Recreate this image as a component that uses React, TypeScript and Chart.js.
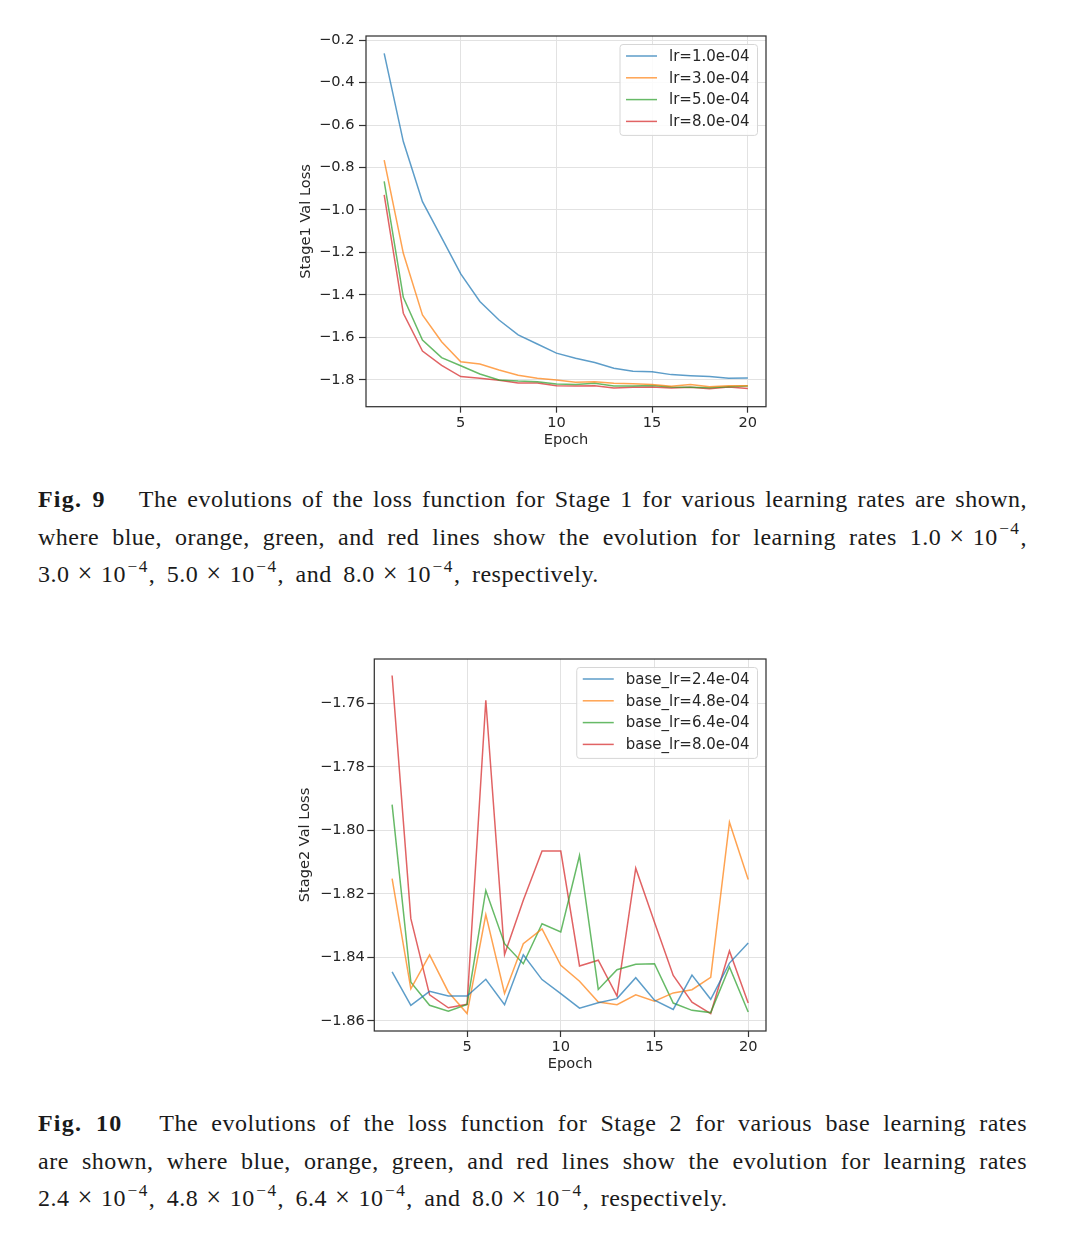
import React, { useEffect, useRef } from "react";
import { Chart, registerables } from "chart.js";

Chart.register(...registerables);

// ---------- data ----------
const epochs = [1, 2, 3, 4, 5, 6, 7, 8, 9, 10, 11, 12, 13, 14, 15, 16, 17, 18, 19, 20];

const stage1Labels = ["lr=1.0e-04", "lr=3.0e-04", "lr=5.0e-04", "lr=8.0e-04"];
const s1Blue = [-0.263, -0.678, -0.961, -1.13, -1.301, -1.431, -1.518, -1.588, -1.631, -1.674, -1.698, -1.718, -1.745, -1.759, -1.762, -1.775, -1.78, -1.784, -1.792, -1.791];
const s1Orange = [-0.765, -1.204, -1.494, -1.62, -1.714, -1.725, -1.753, -1.778, -1.792, -1.8, -1.811, -1.808, -1.816, -1.818, -1.822, -1.83, -1.821, -1.832, -1.827, -1.827];
const s1Green = [-0.865, -1.411, -1.612, -1.695, -1.733, -1.772, -1.8, -1.805, -1.808, -1.819, -1.821, -1.816, -1.828, -1.828, -1.826, -1.833, -1.835, -1.837, -1.832, -1.828];
const s1Red = [-0.929, -1.486, -1.664, -1.731, -1.784, -1.792, -1.802, -1.814, -1.814, -1.827, -1.828, -1.827, -1.838, -1.835, -1.833, -1.838, -1.835, -1.841, -1.833, -1.84];

const stage2Labels = ["base_lr=2.4e-04", "base_lr=4.8e-04", "base_lr=6.4e-04", "base_lr=8.0e-04"];
const s2Blue = [-1.8446, -1.8551, -1.8507, -1.8522, -1.8522, -1.8469, -1.8549, -1.8392, -1.847, -1.8514, -1.856, -1.8543, -1.853, -1.8464, -1.8535, -1.8564, -1.8456, -1.8532, -1.8418, -1.8355];
const s2Orange = [-1.8152, -1.8499, -1.8392, -1.8509, -1.8577, -1.8265, -1.8514, -1.8357, -1.831, -1.8425, -1.8475, -1.8541, -1.8549, -1.8518, -1.8538, -1.8512, -1.8502, -1.8463, -1.7974, -1.8155];
const s2Green = [-1.7919, -1.8478, -1.8551, -1.857, -1.8548, -1.8189, -1.8357, -1.842, -1.8294, -1.832, -1.8079, -1.8501, -1.8439, -1.8422, -1.842, -1.8544, -1.8567, -1.8574, -1.843, -1.8572];
const s2Red = [-1.7512, -1.8278, -1.8518, -1.8559, -1.8548, -1.759, -1.8391, -1.822, -1.8065, -1.8065, -1.8427, -1.8409, -1.8522, -1.8119, -1.8289, -1.8457, -1.8541, -1.8577, -1.838, -1.8544];

const xTicks = [5, 10, 15, 20];
const yTicks1 = [-0.2, -0.4, -0.6, -0.8, -1.0, -1.2, -1.4, -1.6, -1.8];
const yTicks2 = [-1.76, -1.78, -1.8, -1.82, -1.84, -1.86];

// ---------- styling ----------
const COLORS = [
  "rgba(31,119,180,0.72)",
  "rgba(255,127,14,0.72)",
  "rgba(44,160,44,0.72)",
  "rgba(214,39,40,0.72)",
];
const FONT = "DejaVu Sans";
const FS = 14.6;
const TXT = "#262626";

const framePlugin = {
  id: "mplFrame",
  afterDatasetsDraw(chart: any, _args: any, opts: any) {
    const { ctx, chartArea: a } = chart;
    ctx.save();
    ctx.strokeStyle = "#333333";
    ctx.lineWidth = 1.25;
    ctx.strokeRect(a.left, a.top, a.right - a.left, a.bottom - a.top);
    // legend
    const ds = chart.data.datasets;
    ctx.font = `${opts.fontSize}px "${FONT}"`;
    const tw = Math.max(...ds.map((d: any) => ctx.measureText(d.label).width));
    const padL = 6, handle = 31, gap = 12, padR = 8, padT = 11.5, padB = 14, rowH = 21.8;
    const w = padL + handle + gap + tw + padR;
    const h = padT + padB + (ds.length - 1) * rowH;
    const x0 = a.right - 8.5 - w;
    const y0 = a.top + 8.5;
    const r = 3;
    ctx.beginPath();
    ctx.moveTo(x0 + r, y0);
    ctx.lineTo(x0 + w - r, y0);
    ctx.quadraticCurveTo(x0 + w, y0, x0 + w, y0 + r);
    ctx.lineTo(x0 + w, y0 + h - r);
    ctx.quadraticCurveTo(x0 + w, y0 + h, x0 + w - r, y0 + h);
    ctx.lineTo(x0 + r, y0 + h);
    ctx.quadraticCurveTo(x0, y0 + h, x0, y0 + h - r);
    ctx.lineTo(x0, y0 + r);
    ctx.quadraticCurveTo(x0, y0, x0 + r, y0);
    ctx.closePath();
    ctx.fillStyle = "rgba(255,255,255,0.85)";
    ctx.fill();
    ctx.strokeStyle = "#d6d6d6";
    ctx.lineWidth = 1;
    ctx.stroke();
    ctx.textBaseline = "middle";
    ctx.textAlign = "left";
    ds.forEach((d: any, i: number) => {
      const cy = y0 + padT + i * rowH;
      ctx.strokeStyle = d.borderColor;
      ctx.lineWidth = 1.5;
      ctx.beginPath();
      ctx.moveTo(x0 + padL, cy);
      ctx.lineTo(x0 + padL + handle, cy);
      ctx.stroke();
      ctx.fillStyle = TXT;
      ctx.fillText(d.label, x0 + padL + handle + gap, cy + 1);
    });
    ctx.restore();
  },
};

function makeConfig(
  labels: string[],
  series: number[][],
  yTicks: number[],
  yMin: number,
  yMax: number,
  decimals: number,
  yTitle: string,
  geom: { padL: number; padT: number; padR: number; padB: number; yW: number; xH: number; yTL: number; yPad: number }
): any {
  return {
    type: "line",
    data: {
      datasets: series.map((vals, i) => ({
        label: labels[i],
        data: epochs.map((e, j) => ({ x: e, y: vals[j] })),
        borderColor: COLORS[i],
        backgroundColor: COLORS[i],
        borderWidth: 1.5,
        pointRadius: 0,
        tension: 0,
        fill: false,
      })),
    },
    options: {
      animation: false,
      responsive: false,
      maintainAspectRatio: false,
      layout: { padding: { left: geom.padL, top: geom.padT, right: geom.padR, bottom: geom.padB } },
      plugins: {
        legend: { display: false },
        tooltip: { enabled: false },
        mplFrame: { fontSize: 15 },
      },
      scales: {
        x: {
          type: "linear",
          min: 0.05,
          max: 20.95,
          afterBuildTicks: (s: any) => {
            s.ticks = xTicks.map((v) => ({ value: v }));
          },
          afterFit: (s: any) => {
            s.height = geom.xH;
          },
          ticks: {
            autoSkip: false,
            maxRotation: 0,
            padding: 1.4,
            color: TXT,
            font: { family: FONT, size: FS, lineHeight: 1.2 },
            callback: (v: any) => String(v),
          },
          grid: { color: "#e2e2e2", lineWidth: 1, tickColor: "#333333", tickLength: 6, tickWidth: 1.2 },
          border: { display: false },
          title: {
            display: true,
            text: "Epoch",
            color: TXT,
            padding: { top: 0, bottom: 0 },
            font: { family: FONT, size: FS, lineHeight: 1.2 },
          },
        },
        y: {
          type: "linear",
          min: yMin,
          max: yMax,
          afterBuildTicks: (s: any) => {
            s.ticks = yTicks.map((v) => ({ value: v }));
          },
          afterFit: (s: any) => {
            s.width = geom.yW;
          },
          ticks: {
            autoSkip: false,
            padding: geom.yPad,
            color: TXT,
            font: { family: FONT, size: FS, lineHeight: 1.2 },
            callback: (v: any) => Number(v).toFixed(decimals).replace("-", "\u2212"),
          },
          grid: { color: "#e2e2e2", lineWidth: 1, tickColor: "#333333", tickLength: geom.yTL, tickWidth: 1.2 },
          border: { display: false },
          title: {
            display: true,
            text: yTitle,
            color: TXT,
            padding: { top: 0, bottom: 0 },
            font: { family: FONT, size: FS, lineHeight: 1.2 },
          },
        },
      },
    },
    plugins: [framePlugin],
  };
}

function LineChart(props: { config: any; width: number; height: number; left: number; top: number }) {
  const ref = useRef<HTMLCanvasElement | null>(null);
  useEffect(() => {
    if (!ref.current) return;
    const chart = new Chart(ref.current, props.config);
    return () => chart.destroy();
  }, []);
  return (
    <canvas
      ref={ref}
      width={props.width}
      height={props.height}
      style={{ position: "absolute", left: props.left, top: props.top, width: props.width, height: props.height }}
    />
  );
}

const sup = (t: string) => (
  <span style={{ fontSize: "0.72em", position: "relative", top: "-0.6em", lineHeight: 0, marginLeft: 1.5, letterSpacing: "1.5px" }}>{t}</span>
);
const times = <span style={{ margin: "0 8px", fontSize: "1.1em", lineHeight: 0 }}>{"\u00d7"}</span>;

const CAP_FONT: React.CSSProperties = {
  fontFamily: '"Liberation Serif", serif',
  fontSize: 24,
  letterSpacing: "0.5px",
  wordSpacing: "3px",
  color: "#1a1a1a",
};

function CapLine(props: { children: any; justify: boolean; top: number }) {
  return (
    <div
      style={{
        position: "absolute",
        left: 38,
        top: props.top,
        width: 989,
        height: 37.7,
        lineHeight: "37.7px",
        textAlign: props.justify ? "justify" : "left",
        textAlignLast: props.justify ? "justify" : "left",
        ...CAP_FONT,
        wordSpacing: props.justify ? "3px" : "5px",
      }}
    >
      {props.children}
    </div>
  );
}

const figLabel = (t: string) => <b style={{ marginRight: 24, letterSpacing: "1.2px" }}>{t}</b>;

export default function App() {
  const cfg1 = makeConfig(
    stage1Labels,
    [s1Blue, s1Orange, s1Green, s1Red],
    yTicks1,
    -1.926,
    -0.181,
    1,
    "Stage1 Val Loss",
    { padL: 17.4, padT: 16, padR: 14, padB: 11.4, yW: 68.6, xH: 41.9, yTL: 7, yPad: 4.5 }
  );
  const cfg2 = makeConfig(
    stage2Labels,
    [s2Blue, s2Orange, s2Green, s2Red],
    yTicks2,
    -1.8632,
    -1.746,
    2,
    "Stage2 Val Loss",
    { padL: 16.7, padT: 19, padR: 14, padB: 17.1, yW: 77.6, xH: 41.9, yTL: 7, yPad: 2.5 }
  );
  return (
    <div style={{ position: "absolute", left: 0, top: 0, width: 1080, height: 1255, background: "#fff" }}>
      <LineChart config={cfg1} width={500} height={440} left={280} top={20} />
      <LineChart config={cfg2} width={500} height={450} left={280} top={640} />

      <CapLine justify top={480.8}>
        {figLabel("Fig. 9")} The evolutions of the loss function for Stage 1 for various learning rates are shown,
      </CapLine>
      <CapLine justify top={518.5}>
        where blue, orange, green, and red lines show the evolution for learning rates 1.0{times}10{sup("\u22124")},
      </CapLine>
      <CapLine justify={false} top={556.2}>
        3.0{times}10{sup("\u22124")}, 5.0{times}10{sup("\u22124")}, and 8.0{times}10{sup("\u22124")}, respectively.
      </CapLine>

      <CapLine justify top={1104.8}>
        {figLabel("Fig. 10")} The evolutions of the loss function for Stage 2 for various base learning rates
      </CapLine>
      <CapLine justify top={1142.5}>
        are shown, where blue, orange, green, and red lines show the evolution for learning rates
      </CapLine>
      <CapLine justify={false} top={1180.2}>
        2.4{times}10{sup("\u22124")}, 4.8{times}10{sup("\u22124")}, 6.4{times}10{sup("\u22124")}, and 8.0{times}10{sup("\u22124")}, respectively.
      </CapLine>
    </div>
  );
}
